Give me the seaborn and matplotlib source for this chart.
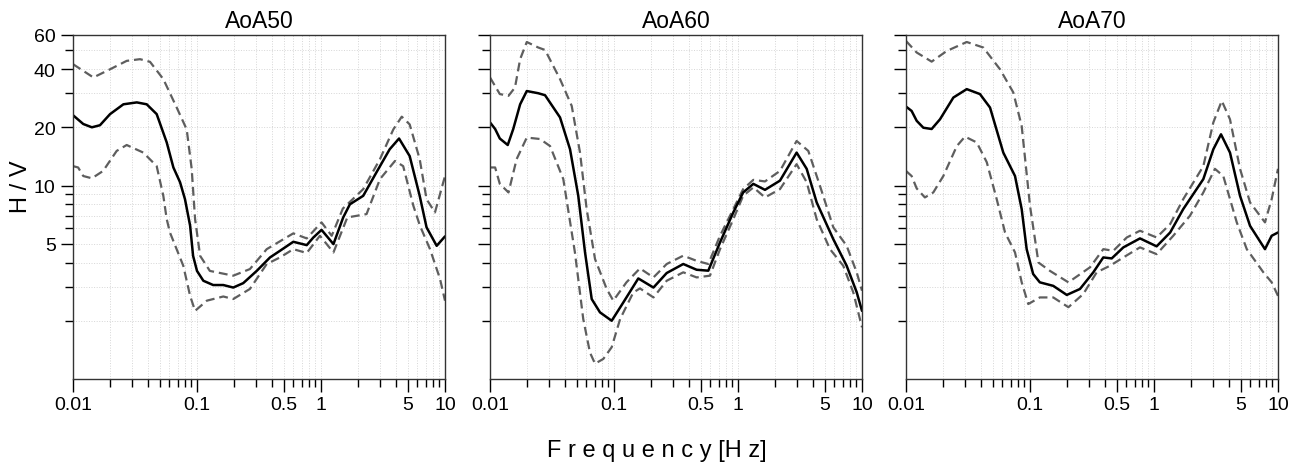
import numpy as np
import pandas as pd
import seaborn as sns
import matplotlib.pyplot as plt
from matplotlib.ticker import FixedLocator, FixedFormatter, NullFormatter

# H/V curves, one set per panel
titles = ['AoA50', 'AoA60', 'AoA70']

# --- AoA50 ---
f50_mean = [0.01, 0.0121, 0.0142, 0.0165, 0.0199, 0.0255, 0.0327, 0.0393, 0.0473, 0.057,
            0.0645, 0.073, 0.080, 0.088, 0.093, 0.10, 0.1125, 0.135, 0.163, 0.196,
            0.236, 0.303, 0.388, 0.467, 0.598, 0.767, 0.868, 1.01, 1.26, 1.51,
            1.71, 2.19, 2.8, 3.58, 4.26, 5.19, 6.25, 7.1, 8.57, 10]
hv50_mean = [23.1, 20.8, 20.0, 20.5, 23.4, 26.3, 26.9, 26.3, 23.4, 16.7,
             12.4, 10.4, 8.5, 6.2, 4.33, 3.62, 3.22, 3.06, 3.06, 2.97,
             3.13, 3.62, 4.25, 4.60, 5.12, 4.92, 5.39, 5.90, 4.98, 6.84,
             8.0, 8.85, 11.7, 15.4, 17.5, 14.2, 8.85, 6.08, 4.88, 5.46]
f50_up = [0.01, 0.0146, 0.0199, 0.0271, 0.0347, 0.0418, 0.0535, 0.0686, 0.0826, 0.0906,
          0.0965, 0.106, 0.127, 0.196, 0.267, 0.365, 0.598, 0.767, 1.01, 1.22,
          1.5, 2.19, 2.99, 3.83, 4.48, 5.19, 6.25, 7.1, 8.3, 10]
hv50_up = [42.4, 36.2, 39.9, 44.1, 45.0, 43.6, 35.5, 25.3, 19.5, 12.2,
           6.7, 4.33, 3.62, 3.42, 3.70, 4.69, 5.66, 5.33, 6.45, 5.50,
           7.6, 9.58, 13.7, 19.5, 22.7, 20.7, 13.7, 8.5, 7.26, 11.2]
f50_lo = [0.01, 0.011, 0.0121, 0.0142, 0.0175, 0.0225, 0.0271, 0.0369, 0.0473, 0.0535,
          0.057, 0.0605, 0.0775, 0.088, 0.0965, 0.12, 0.163, 0.196, 0.267, 0.365,
          0.467, 0.598, 0.767, 0.98, 1.26, 1.63, 2.33, 2.99, 3.95, 4.6,
          5.56, 6.28, 7.57, 9.12, 10]
hv50_lo = [12.6, 12.4, 11.2, 10.9, 11.9, 15.1, 16.2, 14.8, 12.6, 8.85,
           6.7, 5.72, 3.85, 2.69, 2.25, 2.54, 2.67, 2.59, 2.92, 3.93,
           4.25, 4.69, 4.48, 5.5, 4.51, 6.84, 7.12, 10.8, 13.4, 12.6,
           7.85, 6.2, 4.69, 3.29, 2.54]

# --- AoA60 ---
f60_mean = [0.01, 0.011, 0.012, 0.0139, 0.0154, 0.0175, 0.0198, 0.0245, 0.0278, 0.0367,
            0.0442, 0.0515, 0.0584, 0.0661, 0.0771, 0.0958, 0.119, 0.157, 0.208, 0.266,
            0.362, 0.464, 0.576, 0.716, 0.916, 1.10, 1.33, 1.65, 2.18, 2.97,
            3.58, 4.31, 5.87, 7.52, 9.06, 10]
hv60_mean = [21.2, 19.6, 17.5, 16.2, 19.6, 26.3, 30.8, 30.0, 29.3, 22.5,
             15.4, 8.85, 4.51, 2.59, 2.21, 2.0, 2.49, 3.31, 2.97, 3.53,
             3.93, 3.67, 3.63, 5.08, 7.26, 9.21, 10.2, 9.5, 10.6, 14.8,
             12.2, 8.18, 5.28, 3.85, 2.81, 2.25]
f60_up = [0.01, 0.012, 0.0141, 0.0159, 0.0175, 0.0198, 0.0245, 0.0278, 0.0367, 0.0456,
          0.0532, 0.0602, 0.0703, 0.0873, 0.0987, 0.126, 0.162, 0.208, 0.266, 0.362,
          0.464, 0.576, 0.716, 0.916, 1.10, 1.33, 1.65, 2.18, 2.97, 3.69,
          4.58, 5.87, 7.52, 9.06, 10]
hv60_up = [36.2, 29.7, 29.1, 32.1, 45.0, 55.2, 51.7, 50.2, 35.5, 25.8,
           14.8, 7.55, 4.17, 2.92, 2.54, 3.16, 3.73, 3.35, 3.93, 4.34,
           4.08, 3.93, 5.5, 7.55, 9.58, 10.7, 10.5, 11.9, 17.0, 15.1,
           9.97, 6.08, 4.88, 3.56, 2.86]
f60_lo = [0.01, 0.011, 0.012, 0.0141, 0.0164, 0.0198, 0.0253, 0.0305, 0.039, 0.0484,
          0.0565, 0.064, 0.0703, 0.082, 0.0958, 0.112, 0.143, 0.162, 0.208, 0.266,
          0.362, 0.464, 0.594, 0.716, 0.916, 1.10, 1.33, 1.65, 2.18, 2.97,
          3.58, 4.31, 5.52, 7.06, 8.51, 10]
hv60_lo = [12.4, 12.4, 10.2, 9.21, 13.7, 17.7, 17.4, 16.0, 10.8, 4.51,
           2.04, 1.37, 1.20, 1.27, 1.46, 2.04, 2.80, 2.94, 2.64, 3.22,
           3.56, 3.35, 3.42, 4.69, 6.7, 8.85, 9.78, 8.68, 9.58, 12.9,
           10.4, 6.7, 4.69, 3.85, 2.80, 1.85]

# --- AoA70 ---
f70_mean = [0.01, 0.0111, 0.0122, 0.0138, 0.0161, 0.0188, 0.0241, 0.0309, 0.0395, 0.0476,
            0.0609, 0.0757, 0.0857, 0.094, 0.106, 0.120, 0.154, 0.198, 0.253, 0.324,
            0.390, 0.456, 0.566, 0.771, 1.05, 1.35, 1.72, 2.50, 3.01, 3.47,
            4.10, 4.94, 5.95, 7.85, 8.89, 10]
hv70_mean = [25.6, 24.3, 21.6, 19.9, 19.6, 22.0, 28.5, 31.5, 29.7, 25.3,
             14.8, 11.2, 7.55, 4.69, 3.49, 3.16, 3.03, 2.72, 2.92, 3.56,
             4.25, 4.2, 4.79, 5.33, 4.85, 5.72, 7.55, 10.8, 15.4, 18.4,
             14.8, 8.85, 6.19, 4.69, 5.5, 5.72]
f70_up = [0.01, 0.0122, 0.0161, 0.0213, 0.0309, 0.042, 0.0573, 0.0733, 0.0857, 0.1,
          0.117, 0.145, 0.204, 0.305, 0.390, 0.470, 0.603, 0.771, 1.05, 1.35,
          1.72, 2.50, 3.01, 3.52, 4.10, 4.94, 5.95, 7.85, 8.89, 10]
hv70_up = [55.9, 48.7, 43.7, 49.6, 55.2, 51.7, 39.9, 30.3, 20.3, 7.85,
           4.0, 3.62, 3.16, 3.78, 4.69, 4.60, 5.39, 5.84, 5.39, 6.32,
           8.5, 12.6, 21.2, 27.4, 22.0, 12.2, 8.18, 6.45, 8.5, 12.2]
f70_lo = [0.01, 0.0111, 0.0122, 0.0142, 0.0166, 0.020, 0.0257, 0.0299, 0.0372, 0.0448,
          0.0539, 0.0629, 0.0757, 0.0857, 0.0968, 0.120, 0.154, 0.204, 0.269, 0.345,
          0.442, 0.566, 0.771, 1.05, 1.43, 1.95, 2.50, 3.10, 3.62, 4.65,
          5.6, 7.62, 8.89, 10]
hv70_lo = [11.9, 11.2, 9.66, 8.68, 9.21, 11.2, 16.0, 17.9, 16.7, 13.2,
           8.5, 5.72, 4.51, 3.16, 2.44, 2.64, 2.64, 2.35, 2.75, 3.56,
           3.85, 4.25, 4.79, 4.42, 5.5, 6.98, 9.21, 12.2, 11.2, 6.45,
           4.69, 3.56, 3.16, 2.69]

x_major = [0.01, 0.1, 0.5, 1, 5, 10]
x_labels = ['0.01', '0.1', '0.5', '1', '5', '10']
y_major = [5, 10, 20, 40, 60]
y_labels = ['5', '10', '20', '40', '60']

#%%
curves = {
    'AoA50': [(f50_lo, hv50_lo), (f50_up, hv50_up), (f50_mean, hv50_mean)],
    'AoA60': [(f60_lo, hv60_lo), (f60_up, hv60_up), (f60_mean, hv60_mean)],
    'AoA70': [(f70_lo, hv70_lo), (f70_up, hv70_up), (f70_mean, hv70_mean)],
}

sns.set_style('ticks')
plt.rcParams['font.family'] = ['Liberation Sans', 'DejaVu Sans']
plt.rcParams['text.color'] = 'black'
plt.rcParams['xtick.color'] = 'black'
plt.rcParams['ytick.color'] = 'black'
plt.rcParams['xtick.labelcolor'] = 'black'
plt.rcParams['ytick.labelcolor'] = 'black'

fig = plt.figure(figsize=(12.97, 4.64), dpi=100)
lefts = [73, 490, 906]
W, H = 1297, 464

x_minor = [m * d for d in [0.01, 0.1, 1] for m in range(2, 10) if m * d not in x_major]
y_minor = [2, 3, 4, 6, 7, 8, 9, 30, 50]

for i, name in enumerate(titles):
    ax = fig.add_axes([lefts[i] / W, 84 / H, 372 / W, 344 / H])
    lo, up, mean = curves[name]
    for (f, hv) in (lo, up):
        df = pd.DataFrame({'Frequency': f, 'HV': hv})
        sns.lineplot(x='Frequency', y='HV', data=df, ax=ax, color='#5e5e5e',
                     linewidth=1.6, linestyle=(0, (4, 2.2)))
    df = pd.DataFrame({'Frequency': mean[0], 'HV': mean[1]})
    sns.lineplot(x='Frequency', y='HV', data=df, ax=ax, color='black', linewidth=1.8)

    ax.set_xscale('log')
    ax.set_yscale('log')
    ax.set_xlim(0.01, 10)
    ax.set_ylim(1, 60)

    ax.xaxis.set_major_locator(FixedLocator(x_major))
    ax.xaxis.set_major_formatter(FixedFormatter(x_labels))
    ax.xaxis.set_minor_locator(FixedLocator(x_minor))
    ax.xaxis.set_minor_formatter(NullFormatter())
    ax.yaxis.set_major_locator(FixedLocator(y_major))
    ax.yaxis.set_minor_locator(FixedLocator(y_minor))
    ax.yaxis.set_minor_formatter(NullFormatter())
    if i == 0:
        ax.yaxis.set_major_formatter(FixedFormatter(y_labels))
    else:
        ax.yaxis.set_major_formatter(NullFormatter())

    ax.tick_params(which='major', length=9, width=1, labelsize=14, color='black')
    ax.tick_params(which='minor', length=5.5, width=1, color='black')
    ax.grid(True, which='both', linestyle=':', linewidth=0.7, color='#d6d6d6')
    ax.set_axisbelow(True)
    for s in ax.spines.values():
        s.set_color('#333333')
        s.set_linewidth(1)
    ax.set_xlabel('')
    ax.set_ylabel('')
    ax.set_title(name, fontsize=16.5, pad=6, color='black')

fig.text(657 / W, 7 / H, 'F r e q u e n c y [H z]', ha='center', va='baseline', fontsize=17)
fig.text(21 / W, (H - 187) / H, 'H / V', ha='center', va='center', rotation=90, fontsize=17)

plt.savefig('out.png', dpi=100)
